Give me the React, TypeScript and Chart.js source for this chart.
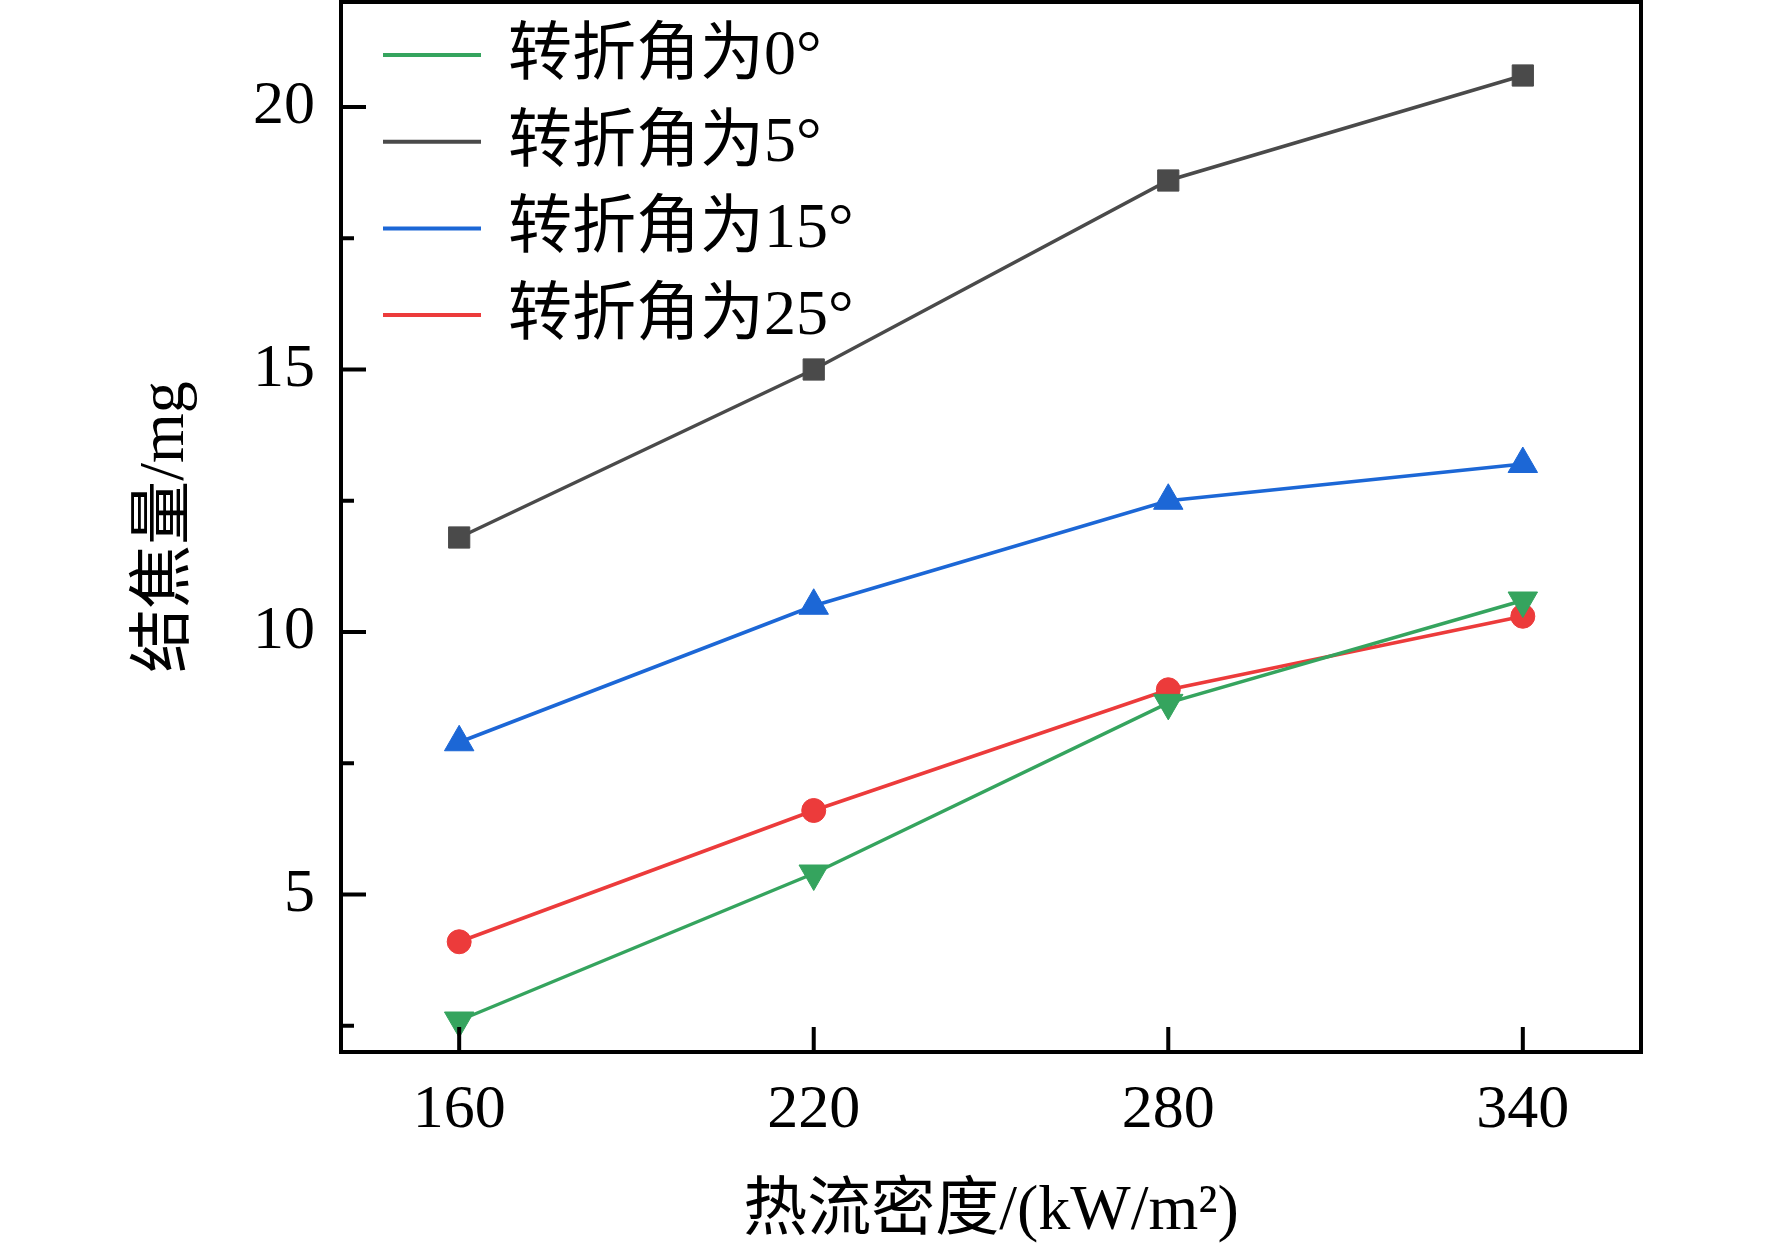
import { useEffect, useRef } from 'react';
import Chart from 'chart.js/auto';

// data
const heatFlux = [160, 220, 280, 340];
const seriesLabels = ['转折角为0°', '转折角为5°', '转折角为15°', '转折角为25°'];
const coking0 = [2.6, 5.4, 8.65, 10.6];
const coking5 = [11.8, 15.0, 18.6, 20.6];
const coking15 = [7.9, 10.5, 12.5, 13.2];
const coking25 = [4.1, 6.6, 8.9, 10.3];
const xTicks = [160, 220, 280, 340];
const yTicks = [2.5, 5, 7.5, 10, 12.5, 15, 17.5, 20];

const SERIF = "'Liberation Serif', 'Noto Sans CJK SC', serif";
const colors = ['#35a45e', '#4a4a4a', '#1c67d6', '#ec3b3b'];

const toPoints = (ys: number[]) => heatFlux.map((x, i) => ({ x, y: ys[i] }));

// frame, inward ticks and the legend in the top-left corner
const framePlugin = {
	id: 'frame',
	afterDatasetsDraw(chart: any) {
		const { ctx, chartArea: a, scales } = chart;
		ctx.save();
		ctx.strokeStyle = '#000';
		ctx.lineWidth = 4;
		ctx.strokeRect(a.left, a.top, a.right - a.left, a.bottom - a.top);
		ctx.beginPath();
		for (const v of xTicks) {
			const px = scales.x.getPixelForValue(v);
			ctx.moveTo(px, a.bottom);
			ctx.lineTo(px, a.bottom - 25);
		}
		for (const v of yTicks) {
			const py = scales.y.getPixelForValue(v);
			const len = v % 5 === 0 ? 25 : 13;
			ctx.moveTo(a.left, py);
			ctx.lineTo(a.left + len, py);
		}
		ctx.stroke();

		// legend
		ctx.font = `64px ${SERIF}`;
		ctx.textBaseline = 'middle';
		ctx.fillStyle = '#000';
		chart.data.datasets.forEach((ds: any, i: number) => {
			const y = 55 + i * 86.7;
			ctx.strokeStyle = ds.borderColor;
			ctx.lineWidth = 4;
			ctx.beginPath();
			ctx.moveTo(383, y);
			ctx.lineTo(481, y);
			ctx.stroke();
			ctx.fillText(ds.label, 508, y + 2);
		});
		ctx.restore();
	},
};

export default function App() {
	const chartRef = useRef<HTMLCanvasElement>(null);

	useEffect(() => {
		document.body.style.margin = '0';
		if (!chartRef.current) return;
		const series = [coking0, coking5, coking15, coking25];
		const styles = ['triangle', 'rect', 'triangle', 'circle'];
		const rotations = [180, 0, 0, 0];
		const radii = [17, 15, 17, 12];
		const chart = new Chart(chartRef.current, {
			type: 'line',
			data: {
				datasets: series.map((ys, i) => ({
					label: seriesLabels[i],
					data: toPoints(ys),
					borderColor: colors[i],
					backgroundColor: colors[i],
					borderWidth: 3.5,
					pointStyle: styles[i],
					pointRotation: rotations[i],
					pointRadius: radii[i],
					pointBorderWidth: 1,
					pointBackgroundColor: colors[i],
					pointBorderColor: colors[i],
					tension: 0,
				})),
			},
			options: {
				animation: false,
				responsive: true,
				maintainAspectRatio: false,
				layout: { autoPadding: false, padding: { left: 0, top: 2, right: 131, bottom: 0 } },
				plugins: {
					legend: { display: false },
					tooltip: { enabled: false },
				},
				scales: {
					x: {
						type: 'linear',
						min: 140,
						max: 360,
						afterBuildTicks: (scale: any) => {
							scale.ticks = xTicks.map((value) => ({ value }));
						},
						afterFit: (scale: any) => {
							scale.height = 199;
							scale.paddingLeft = 0;
							scale.paddingRight = 0;
						},
						grid: { display: false, drawTicks: false },
						border: { display: false },
						ticks: {
							color: '#000',
							padding: 22,
							maxRotation: 0,
							font: { family: SERIF, size: 62 },
						},
						title: {
							display: true,
							text: '热流密度/(kW/m²)',
							color: '#000',
							font: { family: SERIF, size: 64 },
							padding: { top: 0, bottom: 0 },
						},
					},
					y: {
						type: 'linear',
						min: 2,
						max: 22,
						afterBuildTicks: (scale: any) => {
							scale.ticks = yTicks.map((value) => ({ value }));
						},
						afterFit: (scale: any) => {
							scale.width = 341;
							scale.paddingTop = 0;
							scale.paddingBottom = 0;
						},
						grid: { display: false, drawTicks: false },
						border: { display: false },
						ticks: {
							color: '#000',
							padding: 26,
							font: { family: SERIF, size: 62 },
							callback: (v: any) => (Number(v) % 5 === 0 ? String(v) : ''),
						},
						title: {
							display: true,
							text: '结焦量/mg',
							color: '#000',
							font: { family: SERIF, size: 64 },
							padding: { top: 128, bottom: 0 },
						},
					},
				},
			},
			plugins: [framePlugin],
		});
		return () => chart.destroy();
	}, []);

	return (
		<div style={{ position: 'fixed', left: 0, top: 0, width: 1772, height: 1251, background: '#fff' }}>
			<canvas ref={chartRef}></canvas>
		</div>
	);
}
